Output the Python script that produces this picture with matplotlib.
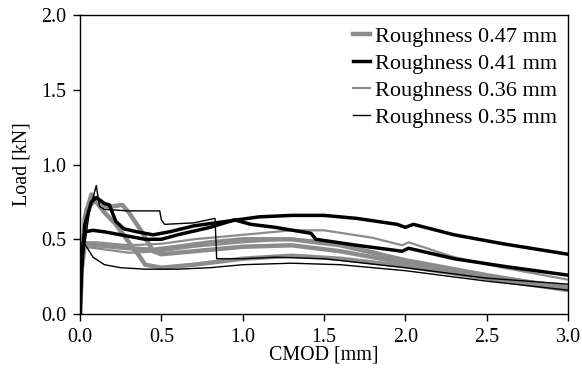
import matplotlib
matplotlib.use("Agg")
import matplotlib.pyplot as plt
from matplotlib.lines import Line2D

plt.rcParams['font.family'] = ['Liberation Serif', 'DejaVu Serif']

# CMOD [mm] / Load [kN], one pair of lists per specimen
# Roughness 0.47 mm (thick grey)
g1_x = [0, 0.01, 0.03, 0.07, 0.10, 0.15, 0.22, 0.30, 0.37, 0.40, 0.50, 0.70, 1.0, 1.3, 1.6, 2.0, 2.5, 3.0]
g1_y = [0, 0.35, 0.65, 0.80, 0.75, 0.68, 0.60, 0.48, 0.38, 0.33, 0.31, 0.33, 0.37, 0.39, 0.37, 0.32, 0.24, 0.16]
g2_x = [0, 0.01, 0.04, 0.09, 0.15, 0.20, 0.26, 0.30, 0.38, 0.45, 0.50, 0.70, 1.0, 1.3, 1.6, 2.0, 2.5, 3.0]
g2_y = [0, 0.30, 0.70, 0.76, 0.72, 0.72, 0.73, 0.68, 0.55, 0.42, 0.40, 0.42, 0.45, 0.46, 0.42, 0.34, 0.25, 0.18]
g3_x = [0, 0.01, 0.03, 0.10, 0.30, 0.45, 0.60, 0.80, 1.0, 1.3, 1.6, 2.0, 2.5, 3.0]
g3_y = [0, 0.30, 0.47, 0.46, 0.44, 0.43, 0.45, 0.48, 0.50, 0.50, 0.46, 0.36, 0.26, 0.17]

# Roughness 0.41 mm (thick black)
b1_x = [0, 0.01, 0.03, 0.07, 0.10, 0.15, 0.18, 0.22, 0.27, 0.35, 0.45, 0.55, 0.70, 0.90, 1.1, 1.3, 1.5, 1.7, 1.95, 2.0, 2.05, 2.3, 2.6, 3.0]
b1_y = [0, 0.30, 0.60, 0.75, 0.78, 0.74, 0.73, 0.62, 0.57, 0.55, 0.53, 0.55, 0.59, 0.62, 0.65, 0.66, 0.66, 0.64, 0.60, 0.58, 0.60, 0.53, 0.47, 0.40]
b2_x = [0, 0.01, 0.03, 0.08, 0.15, 0.25, 0.40, 0.50, 0.60, 0.80, 0.95, 1.05, 1.2, 1.42, 1.45, 1.7, 1.98, 2.02, 2.3, 2.6, 3.0]
b2_y = [0, 0.40, 0.55, 0.56, 0.55, 0.53, 0.50, 0.50, 0.53, 0.58, 0.63, 0.60, 0.58, 0.54, 0.50, 0.46, 0.42, 0.44, 0.37, 0.32, 0.26]

# Roughness 0.36 mm (thin grey)
s1_x = [0, 0.01, 0.02, 0.10, 0.30, 0.50, 0.70, 1.0, 1.3, 1.5, 1.8, 1.98, 2.02, 2.3, 2.6, 3.0]
s1_y = [0, 0.30, 0.48, 0.48, 0.46, 0.47, 0.50, 0.53, 0.56, 0.56, 0.51, 0.46, 0.48, 0.38, 0.31, 0.23]
s2_x = [0, 0.01, 0.02, 0.10, 0.30, 0.50, 0.70, 1.0, 1.3, 1.5, 1.8, 2.0, 2.5, 3.0]
s2_y = [0, 0.30, 0.45, 0.44, 0.41, 0.42, 0.45, 0.48, 0.50, 0.49, 0.42, 0.36, 0.26, 0.18]

# Roughness 0.35 mm (thin black)
t1_x = [0, 0.02, 0.06, 0.10, 0.12, 0.15, 0.30, 0.49, 0.50, 0.52, 0.70, 0.83, 0.84, 1.0, 1.2, 1.5, 2.0, 2.5, 3.0]
t1_y = [0, 0.40, 0.70, 0.86, 0.72, 0.70, 0.69, 0.69, 0.63, 0.60, 0.61, 0.64, 0.37, 0.37, 0.38, 0.37, 0.31, 0.24, 0.20]
t2_x = [0, 0.01, 0.02, 0.04, 0.08, 0.15, 0.25, 0.40, 0.60, 0.80, 1.0, 1.3, 1.6, 2.0, 2.5, 3.0]
t2_y = [0, 0.30, 0.48, 0.45, 0.38, 0.33, 0.31, 0.30, 0.30, 0.31, 0.33, 0.34, 0.33, 0.29, 0.22, 0.16]

labels = ["Roughness 0.47 mm", "Roughness 0.41 mm", "Roughness 0.36 mm", "Roughness 0.35 mm"]

grey = "#8c8c8c"
fig = plt.figure(figsize=(5.82, 3.69), dpi=100)
ax = fig.add_axes([0.1375, 0.149, 0.976 - 0.1375, 0.959 - 0.149])

for x, y in [(g1_x, g1_y), (g2_x, g2_y), (g3_x, g3_y)]:
    ax.plot(x, y, color=grey, lw=3.2, solid_joinstyle="round")
for x, y in [(s1_x, s1_y), (s2_x, s2_y)]:
    ax.plot(x, y, color=grey, lw=1.6)
for x, y in [(b1_x, b1_y), (b2_x, b2_y)]:
    ax.plot(x, y, color="black", lw=2.5)
for x, y in [(t1_x, t1_y), (t2_x, t2_y)]:
    ax.plot(x, y, color="black", lw=1.0)

ax.set_xlim(0, 3)
ax.set_ylim(0, 2)
ax.set_xticks([0, 0.5, 1.0, 1.5, 2.0, 2.5, 3.0])
ax.set_yticks([0, 0.5, 1.0, 1.5, 2.0])
ax.set_xticklabels(["%.1f" % v for v in ax.get_xticks()])
ax.set_yticklabels(["%.1f" % v for v in ax.get_yticks()])
ax.tick_params(labelsize=14.4, direction="out", length=5, width=1, color="black")
ax.tick_params(axis="x", pad=5)
ax.tick_params(axis="y", pad=5)
for sp in ax.spines.values():
    sp.set_linewidth(1.0)
ax.set_xlabel("CMOD [mm]", fontsize=14.4, labelpad=-1)
ax.set_ylabel("Load [kN]", fontsize=14.4, labelpad=7)

handles = [Line2D([], [], color=grey, lw=3.2),
           Line2D([], [], color="black", lw=2.5),
           Line2D([], [], color=grey, lw=1.6),
           Line2D([], [], color="black", lw=1.0)]
ax.legend(handles, labels, loc="upper right", frameon=False, fontsize=16,
          handlelength=0.8, handletextpad=0.2, labelspacing=0.29,
          borderaxespad=0.1)

fig.savefig("out.png", dpi=100)
